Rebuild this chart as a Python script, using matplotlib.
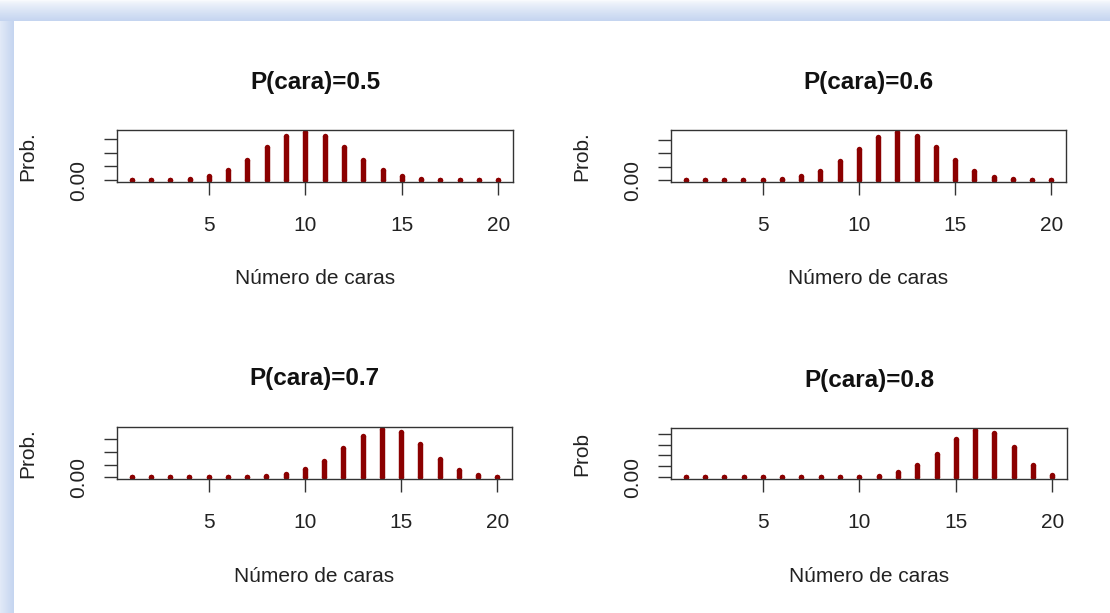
import numpy as np
import matplotlib
matplotlib.use("Agg")
import matplotlib.pyplot as plt

plt.rcParams['font.family'] = ['Liberation Sans', 'DejaVu Sans']

# ---- data ----
caras = [1, 2, 3, 4, 5, 6, 7, 8, 9, 10, 11, 12, 13, 14, 15, 16, 17, 18, 19, 20]
titulos = ["P(cara)=0.5", "P(cara)=0.6", "P(cara)=0.7", "P(cara)=0.8"]
ylabels = ["Prob.", "Prob.", "Prob.", "Prob"]
prob_05 = [0.0000, 0.0002, 0.0011, 0.0046, 0.0148, 0.0370, 0.0739, 0.1201, 0.1602, 0.1762,
           0.1602, 0.1201, 0.0739, 0.0370, 0.0148, 0.0046, 0.0011, 0.0002, 0.0000, 0.0000]
prob_06 = [0.0000, 0.0000, 0.0000, 0.0003, 0.0013, 0.0049, 0.0146, 0.0355, 0.0710, 0.1171,
           0.1597, 0.1797, 0.1659, 0.1244, 0.0746, 0.0350, 0.0123, 0.0031, 0.0005, 0.0000]
prob_07 = [0.0000, 0.0000, 0.0000, 0.0000, 0.0000, 0.0002, 0.0010, 0.0039, 0.0120, 0.0308,
           0.0654, 0.1144, 0.1643, 0.1916, 0.1789, 0.1304, 0.0716, 0.0278, 0.0068, 0.0008]
prob_08 = [0.0000, 0.0000, 0.0000, 0.0000, 0.0000, 0.0000, 0.0000, 0.0001, 0.0005, 0.0020,
           0.0074, 0.0222, 0.0545, 0.1091, 0.1746, 0.2182, 0.2054, 0.1369, 0.0576, 0.0115]
series = [prob_05, prob_06, prob_07, prob_08]
xticks = [5, 10, 15, 20]
xlabel = "Número de caras"

W, H = 1110, 613
fig = plt.figure(figsize=(W / 100, H / 100), dpi=100)
fig.patch.set_facecolor("white")

# light-blue frame (screenshot border) on the left and top
img = np.ones((H, W, 3))
blue = np.array([197, 213, 240]) / 255.0
white = np.array([248, 250, 253]) / 255.0
top_h, left_w = 21, 14
for yy in range(top_h):
    t = (yy / (top_h - 1)) ** 0.8
    img[yy, :, :] = white * (1 - t) + blue * t
for xx in range(left_w):
    t = 0.45 + 0.55 * (xx / (left_w - 1))
    img[top_h:, xx, :] = white * (1 - t) + blue * t
fig.figimage(img, xo=0, yo=0, origin="upper", zorder=-10)

# axes boxes in pixels: left, top, right, bottom
boxes = [(117, 130, 513, 182), (671, 130, 1066, 182),
         (117, 427, 512, 479), (671, 428, 1067, 479)]

bar_color = "#8B0000"
lw = 3.9
for i, (vals, (l, t, r, b)) in enumerate(zip(series, boxes)):
    ax = fig.add_axes([l / W, 1 - b / H, (r - l) / W, (b - t) / H])
    ax.vlines(caras, 0, vals, colors=bar_color, linewidth=lw)
    ax.plot(caras, vals, "o", color=bar_color, markersize=lw, markeredgewidth=0)
    ax.plot(caras, [0] * len(caras), "o", color=bar_color, markersize=lw, markeredgewidth=0)
    ymax = max(vals)
    ax.set_ylim(-0.04 * ymax, 1.04 * ymax)
    ax.set_xlim(1 - 0.04 * 19, 20 + 0.04 * 19)
    ax.set_xticks(xticks)
    ax.set_xticklabels([str(v) for v in xticks])
    yt = [k * 0.05 for k in range(int(ymax / 0.05) + 1)]
    ax.set_yticks(yt)
    ax.set_yticklabels(["0.00"] + [""] * (len(yt) - 1))
    for s in ax.spines.values():
        s.set_color("#333333")
        s.set_linewidth(1.0)
    ax.tick_params(axis="x", length=9.5, width=1.0, color="#333333",
                   labelsize=15, pad=15, labelcolor="#222222")
    ax.tick_params(axis="y", length=9.5, width=1.0, color="#333333",
                   labelsize=15, pad=11, labelcolor="#222222", labelrotation=90)
    for lab in ax.get_yticklabels():
        lab.set_va("center")
    cx = (l + r) / 2
    fig.text(cx / W, 1 - (t - 48) / H, titulos[i], ha="center", va="center",
             fontsize=17.5, fontweight="bold", color="#111111")
    fig.text(cx / W, 1 - (b + 97) / H, xlabel, ha="center", va="center",
             fontsize=15, color="#222222")
    fig.text((l - 89) / W, 1 - ((t + b) / 2) / H, ylabels[i], ha="center", va="center",
             fontsize=15, rotation=90, color="#222222")

fig.savefig("out.png", dpi=100)
